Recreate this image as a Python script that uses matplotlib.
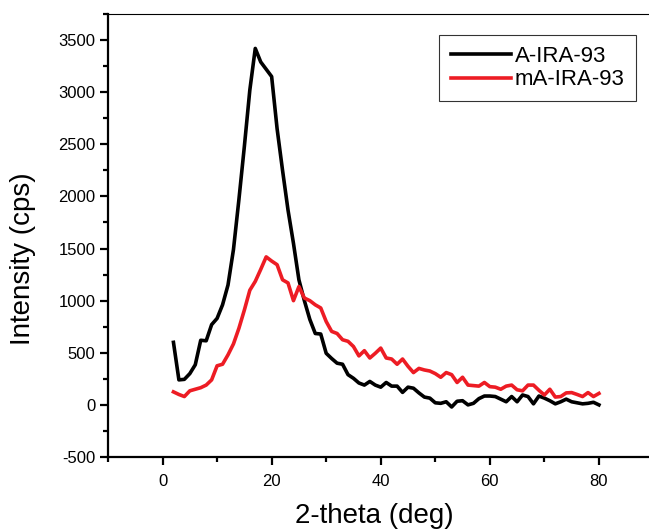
import numpy as np
import matplotlib.pyplot as plt
from matplotlib.ticker import MultipleLocator

plt.rcParams['font.family'] = ['Liberation Sans', 'DejaVu Sans']
plt.rcParams['axes.unicode_minus'] = False

# 2-theta (deg), one reading per degree
two_theta = list(range(2, 81))

a_ira = [600, 240, 245, 300, 385, 620, 615, 770, 830, 960,
         1150, 1490, 1970, 2480, 3020, 3420, 3290, 3220, 3150, 2650,
         2250, 1870, 1550, 1200, 1000, 820, 685, 680, 495, 445,
         400, 390, 290, 255, 210, 190, 225, 190, 170, 215,
         180, 180, 120, 170, 160, 115, 75, 65, 20, 15,
         30, -20, 35, 40, 0, 15, 60, 85, 85, 80,
         55, 30, 80, 30, 95, 80, 10, 85, 65, 40,
         10, 30, 55, 30, 20, 10, 15, 25, 0]

ma_ira = [125, 100, 80, 135, 150, 165, 190, 240, 375, 390,
          480, 585, 735, 910, 1100, 1185, 1300, 1420, 1380, 1345,
          1200, 1170, 1000, 1135, 1025, 1000, 960, 930, 800, 705,
          685, 625, 610, 560, 470, 520, 450, 495, 545, 450,
          440, 390, 440, 370, 310, 350, 335, 325, 300, 265,
          310, 290, 215, 265, 190, 185, 180, 215, 175, 170,
          150, 180, 190, 145, 135, 190, 190, 140, 95, 150,
          75, 80, 115, 118, 100, 80, 118, 80, 110]

fig = plt.figure(figsize=(6.49, 5.29), dpi=100)
ax = fig.add_axes([0.1664, 0.1361, 0.8405, 0.8374])

ax.plot(two_theta, a_ira, color='black', lw=2.6, label='A-IRA-93')
ax.plot(two_theta, ma_ira, color='#ED1C24', lw=2.6, label='mA-IRA-93')

ax.set_xlim(-10, 90)
ax.set_ylim(-500, 3750)
ax.xaxis.set_major_locator(MultipleLocator(20))
ax.xaxis.set_minor_locator(MultipleLocator(10))
ax.yaxis.set_major_locator(MultipleLocator(500))
ax.yaxis.set_minor_locator(MultipleLocator(250))

for s in ['left', 'bottom']:
    ax.spines[s].set_linewidth(1.6)
ax.spines['top'].set_linewidth(0.8)
ax.spines['right'].set_linewidth(0.8)

ax.tick_params(which='major', direction='out', length=6, width=1.6, labelsize=12)
ax.tick_params(which='minor', direction='out', length=3.5, width=1.6)
ax.tick_params(axis='x', which='major', pad=6)
ax.tick_params(axis='y', which='major', pad=3)
ax.tick_params(top=False, right=False, which='both')

ax.set_xlabel('2-theta (deg)', fontsize=20)
ax.set_ylabel('Intensity (cps)', fontsize=20)
ax.xaxis.set_label_coords(0.489, -0.104)
ax.yaxis.set_label_coords(-0.132, 0.447)

leg = ax.legend(loc='upper right', bbox_to_anchor=(0.968, 0.9526), borderaxespad=0,
                fontsize=16, frameon=True, fancybox=False, edgecolor='black',
                handlelength=2.7, handletextpad=0.2, labelspacing=0.1,
                borderpad=0.5)
leg.get_frame().set_linewidth(0.8)

fig.savefig('out.png', dpi=100)
